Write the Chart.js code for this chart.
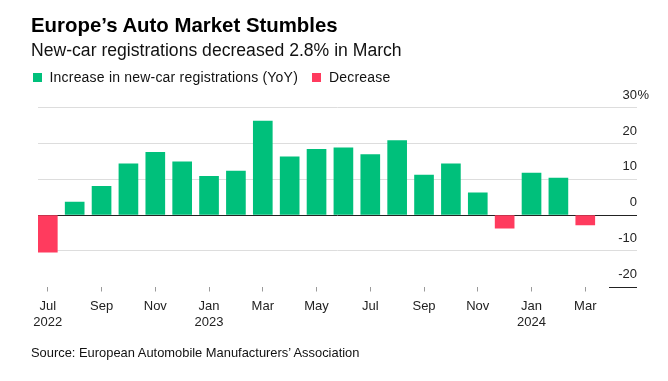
<!DOCTYPE html>
<html>
<head>
<meta charset="utf-8">
<script src="https://cdn.jsdelivr.net/npm/chart.js@4"></script>
<style>
  html, body { margin: 0; padding: 0; background: #fff; }
  body { width: 668px; height: 381px; position: relative; overflow: hidden; font-family: "Liberation Sans", Arial, Helvetica, sans-serif; color: #000; }
  #chart { position: absolute; left: 0; top: 0; }
  .t { position: absolute; white-space: nowrap; line-height: 1; }
  #title { left: 31px; top: 15px; font-size: 20.4px; font-weight: bold; }
  #subtitle { left: 31px; top: 41.5px; font-size: 17.6px; color: #111; }
  .leg { position: absolute; top: 69.5px; font-size: 14px; letter-spacing: 0.2px; white-space: nowrap; line-height: 14px; color: #111; }
  .sw { display: inline-block; width: 9px; height: 9px; vertical-align: 0px; margin-right: 8px; }
  #source { left: 31px; top: 346.5px; font-size: 12.9px; color: #111; }
</style>
</head>
<body>
<canvas id="chart" width="668" height="381"></canvas>
<div id="title" class="t">Europe’s Auto Market Stumbles</div>
<div id="subtitle" class="t">New-car registrations decreased 2.8% in March</div>
<div class="leg" style="left:32.5px"><span class="sw" style="background:#00c07b"></span>Increase in new-car registrations (YoY)</div>
<div class="leg" style="left:312px"><span class="sw" style="background:#ff3b5e"></span>Decrease</div>
<div id="source" class="t">Source: European Automobile Manufacturers’ Association</div>
<script>
// Months Jul 2022 .. Mar 2024
const months = ['Jul 2022','Aug 2022','Sep 2022','Oct 2022','Nov 2022','Dec 2022',
  'Jan 2023','Feb 2023','Mar 2023','Apr 2023','May 2023','Jun 2023','Jul 2023','Aug 2023',
  'Sep 2023','Oct 2023','Nov 2023','Dec 2023','Jan 2024','Feb 2024','Mar 2024'];
// YoY change in new-car registrations (%)
const yoyChange = [-10.4, 3.6, 8.0, 14.3, 17.5, 14.9, 10.8, 12.3, 26.3, 16.3, 18.4, 18.8,
  16.9, 20.8, 11.2, 14.3, 6.2, -3.7, 11.7, 10.3, -2.8];
// X tick labels (every other month)
const xTickLabels = { 0: ['Jul','2022'], 2: ['Sep'], 4: ['Nov'], 6: ['Jan','2023'], 8: ['Mar'],
  10: ['May'], 12: ['Jul'], 14: ['Sep'], 16: ['Nov'], 18: ['Jan','2024'], 20: ['Mar'] };
const yTicks = [-20, -10, 0, 10, 20, 30];

const GREEN = '#00c07b', RED = '#ff3b5e';
const incData = yoyChange.map((v, i) => v >= 0 ? { x: i, y: v } : { x: i, y: null });
const decData = yoyChange.map((v, i) => v < 0 ? { x: i, y: v } : { x: i, y: null });

const FONT = '"Liberation Sans", Arial, Helvetica, sans-serif';

const extras = {
  id: 'extras',
  afterDraw(chart) {
    const ctx = chart.ctx, y = chart.scales.y, area = chart.chartArea;
    ctx.save();
    ctx.font = '13px ' + FONT;
    ctx.fillStyle = '#222';
    ctx.textAlign = 'left';
    ctx.textBaseline = 'middle';
    ctx.fillText('%', area.right + 0.5, y.getPixelForValue(30) - 12.5);
    const yb = Math.round(y.getPixelForValue(-20)) + 0.5;
    ctx.strokeStyle = '#222';
    ctx.lineWidth = 1;
    ctx.beginPath();
    ctx.moveTo(area.right - 28, yb);
    ctx.lineTo(area.right, yb);
    ctx.stroke();
    ctx.restore();
  }
};

new Chart(document.getElementById('chart'), {
  type: 'bar',
  data: {
    datasets: [
      { label: 'Increase in new-car registrations (YoY)', data: incData, backgroundColor: GREEN, barThickness: 19, grouped: false },
      { label: 'Decrease', data: decData, backgroundColor: RED, barThickness: 19, grouped: false }
    ]
  },
  options: {
    responsive: false,
    animation: false,
    devicePixelRatio: 1,
    layout: { padding: { left: 38, right: 31, top: 107.75, bottom: 45 } },
    plugins: { legend: { display: false }, tooltip: { enabled: false }, title: { display: false } },
    scales: {
      x: {
        type: 'linear',
        offset: false,
        min: -0.365,
        max: 21.925,
        afterBuildTicks(scale) { scale.ticks = Object.keys(xTickLabels).map(k => ({ value: +k })); },
        afterFit(scale) { scale.height = 49.5; },
        grid: { display: true, offset: false, drawOnChartArea: false, drawTicks: true, tickLength: 5, tickColor: '#9a9a9a', tickWidth: 1 },
        border: { display: false },
        ticks: {
          padding: 7,
          maxRotation: 0,
          autoSkip: false,
          color: '#222',
          font: { family: FONT, size: 13, lineHeight: 1.23 },
          callback: (v) => xTickLabels[v] || ''
        }
      },
      y: {
        position: 'right',
        min: -20,
        max: 30,
        afterBuildTicks(scale) { scale.ticks = yTicks.map(v => ({ value: v })); },
        grid: {
          drawTicks: false,
          color: (c) => c.tick.value === 0 ? '#222' : (c.tick.value === -20 ? 'rgba(0,0,0,0)' : '#dddddd'),
          lineWidth: 1
        },
        border: { display: false },
        ticks: {
          mirror: true,
          padding: 0,
          labelOffset: -12.5,
          color: '#222',
          font: { family: FONT, size: 13 },
          callback: (v) => String(v)
        }
      }
    }
  },
  plugins: [extras]
});
</script>
</body>
</html>
